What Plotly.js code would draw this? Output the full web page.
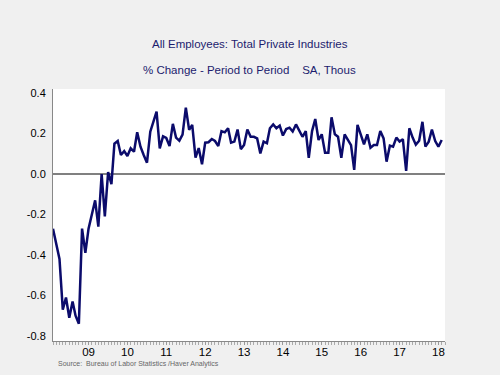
<!DOCTYPE html>
<html>
<head>
<meta charset="utf-8">
<script src="https://cdn.plot.ly/plotly-3.0.1.min.js"></script>
<style>html,body{margin:0;padding:0;background:#f0f0f0;}#chart{width:500px;height:375px;}</style>
</head>
<body>
<div id="chart"></div>
<script>
// Monthly series: Aug 2008 .. Aug 2018 (121 months)
const startYear = 2008, startMonth = 8;
const pctChange = [
  -0.27,-0.35,-0.42,-0.67,-0.61,-0.71,-0.63,-0.70,-0.74,-0.27,
  -0.39,-0.27,-0.20,-0.13,-0.26,0.00,-0.21,0.01,-0.05,0.15,
  0.163,0.094,0.113,0.089,0.127,0.11,0.206,0.135,0.094,0.056,
  0.209,0.258,0.308,0.127,0.186,0.178,0.138,0.248,0.18,0.165,
  0.195,0.328,0.218,0.243,0.081,0.128,0.048,0.155,0.157,0.173,
  0.163,0.138,0.212,0.206,0.226,0.155,0.16,0.22,0.123,0.143,
  0.22,0.184,0.184,0.176,0.102,0.16,0.152,0.226,0.245,0.226,
  0.239,0.19,0.222,0.229,0.21,0.245,0.217,0.184,0.212,0.08,
  0.212,0.272,0.168,0.196,0.105,0.105,0.28,0.196,0.184,0.08,
  0.196,0.171,0.143,0.02,0.243,0.196,0.147,0.196,0.13,0.143,
  0.143,0.212,0.176,0.061,0.14,0.135,0.18,0.16,0.172,0.015,
  0.226,0.18,0.145,0.164,0.258,0.135,0.16,0.22,0.163,0.135,
  0.168
];
const yearLabels = ['09','10','11','12','13','14','15','16','17','18'];
const yTickVals = [0.4,0.2,0.0,-0.2,-0.4,-0.6,-0.8];
const yTickText = ['0.4','0.2','0.0','-0.2','-0.4','-0.6','-0.8'];

function pad(n){return (n<10?'0':'')+n;}
const dates = pctChange.map((_, i) => {
  const m = startMonth - 1 + i;
  return (startYear + Math.floor(m/12)) + '-' + pad(m%12 + 1) + '-01';
});
const yearTickVals = yearLabels.map(l => (2000 + parseInt(l,10)) + '-07-01');

const trace = {
  x: dates, y: pctChange, type: 'scatter', mode: 'lines',
  line: {color: '#0b0b6b', width: 2.5}, hoverinfo: 'skip'
};

const navy = '#1c1c6e';
const layout = {
  width: 500, height: 375,
  paper_bgcolor: '#f0f0f0', plot_bgcolor: '#ffffff',
  margin: {l: 53, r: 55, t: 89, b: 34},
  showlegend: false,
  font: {family: 'Liberation Sans, Arial, sans-serif', color: '#000'},
  xaxis: {
    type: 'date',
    range: ['2008-08-01', '2018-09-01'],
    tickvals: yearTickVals, ticktext: yearLabels,
    ticks: 'outside', ticklen: 3, tickcolor: '#999', tickwidth: 1,
    minor: {dtick: 'M1', ticks: 'outside', ticklen: 3, tickcolor: '#aaa', tickwidth: 1},
    tickfont: {size: 11.5, color: '#000'},
    ticklabelstandoff: -3,
    showline: true, linecolor: '#888', linewidth: 1,
    showgrid: false, zeroline: false, fixedrange: true
  },
  yaxis: {
    range: [-0.825, 0.42],
    tickvals: yTickVals, ticktext: yTickText,
    ticks: '', ticklabelstandoff: 4,
    tickfont: {size: 11, color: '#000'},
    showline: true, linecolor: '#888', linewidth: 1,
    showgrid: false,
    zeroline: true, zerolinecolor: '#808080', zerolinewidth: 1.5,
    fixedrange: true
  },
  annotations: [
    {text: 'All Employees: Total Private Industries', xref: 'paper', yref: 'paper',
     x: 0.5, y: 0, xanchor: 'center', yanchor: 'middle', showarrow: false,
     font: {size: 11.5, color: navy}},
    {text: '% Change - Period to Period&nbsp;&nbsp;&nbsp;&nbsp;SA, Thous', xref: 'paper', yref: 'paper',
     x: 0.5, y: 0, xanchor: 'center', yanchor: 'middle', showarrow: false,
     font: {size: 11.5, color: navy}},
    {text: 'Source:  Bureau of Labor Statistics /Haver Analytics', xref: 'paper', yref: 'paper',
     x: 0, y: 0, xanchor: 'left', yanchor: 'middle', showarrow: false,
     font: {size: 7, color: '#666'}}
  ]
};

// position annotations in pixel terms relative to plot area
const plotTop = 89, plotBottom = 375 - 34, plotH = plotBottom - plotTop;
const plotLeft = 53, plotW = 500 - 53 - 55;
function yFromPx(py){ return (plotBottom - py) / plotH; }
function xFromPx(px){ return (px - plotLeft) / plotW; }
layout.annotations[0].y = yFromPx(44);
layout.annotations[0].x = xFromPx(250);
layout.annotations[1].y = yFromPx(70);
layout.annotations[1].x = xFromPx(249);
layout.annotations[2].y = yFromPx(364);
layout.annotations[2].x = xFromPx(56);

Plotly.newPlot('chart', [trace], layout, {displayModeBar: false, staticPlot: true});
</script>
</body>
</html>
